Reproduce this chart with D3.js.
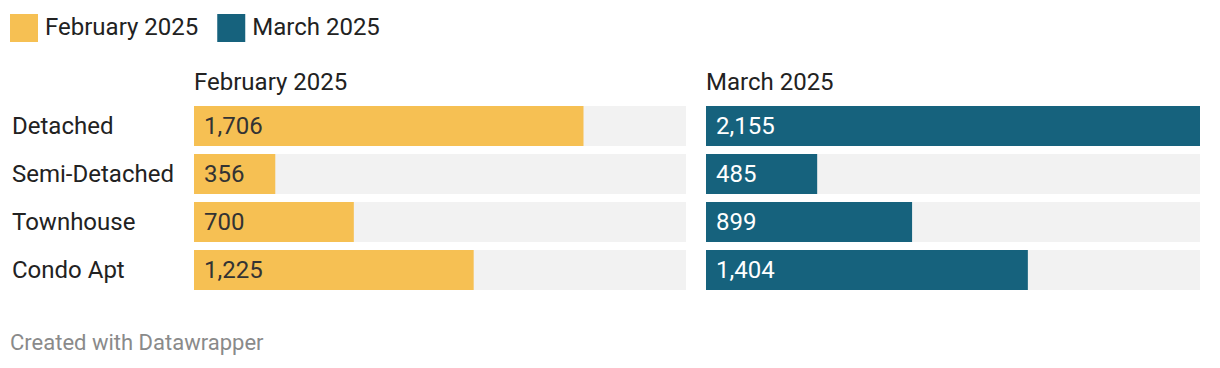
<!DOCTYPE html>
<html lang="en">
<head>
  <meta charset="UTF-8" />
  <title>Sales by home type – February vs March 2025</title>
  <script src="https://d3js.org/d3.v7.min.js"></script>
  <style>
    body {
      margin: 0;
      background: #fff;
      font-family: Roboto, "Noto Sans", sans-serif;
    }
    svg text {
      font-family: Roboto, "Noto Sans", sans-serif;
    }
  </style>
</head>
<body>
  <svg width="1220" height="368"></svg>

  <script>
    const categories = ["Detached", "Semi-Detached", "Townhouse", "Condo Apt"];
    const seriesNames = ["February 2025", "March 2025"];
    const february = [1706, 356, 700, 1225];
    const march = [2155, 485, 899, 1404];
    const seriesValues = [february, march];
    const colors = ["#f6c053", "#16627d"];
    const labelColors = ["#333333", "#ffffff"];

    const svg = d3.select("svg");
    const fontSize = 24;

    // Legend
    const legend = svg.append("g").attr("transform", "translate(10,14)");
    let lx = 0;
    seriesNames.forEach((name, i) => {
      const g = legend.append("g").attr("transform", `translate(${lx},0)`);
      g.append("rect").attr("width", 28).attr("height", 28).attr("fill", colors[i]);
      const t = g.append("text")
        .attr("x", 35).attr("y", 21)
        .attr("font-size", fontSize).attr("fill", "#222")
        .text(name);
      lx += 35 + t.node().getComputedTextLength() + 19;
    });

    // Panels
    const panelX = [194, 706];
    const panelW = 494;
    // bands: step 48, bar height 40
    const yb = d3.scaleBand().domain(categories).range([106, 106 + 48 * 4 - 8]).paddingInner(8 / 48);
    const x = d3.scaleLinear().domain([0, d3.max([...february, ...march])]).range([0, panelW]);
    const fmt = d3.format(",");

    // Row labels
    svg.append("g").selectAll("text")
      .data(categories)
      .join("text")
      .attr("x", 12)
      .attr("y", d => yb(d) + yb.bandwidth() / 2 + 8)
      .attr("font-size", fontSize)
      .attr("fill", "#222")
      .text(d => d);

    seriesValues.forEach((vals, i) => {
      const g = svg.append("g").attr("transform", `translate(${panelX[i]},0)`);
      const w = i === 0 ? 492 : 494;

      g.append("text")
        .attr("x", 0).attr("y", 90)
        .attr("font-size", fontSize).attr("fill", "#222")
        .text(seriesNames[i]);

      g.selectAll("rect.bg")
        .data(categories)
        .join("rect")
        .attr("class", "bg")
        .attr("x", 0)
        .attr("y", d => yb(d))
        .attr("width", w)
        .attr("height", yb.bandwidth())
        .attr("fill", "#f2f2f2");

      g.selectAll("rect.bar")
        .data(vals)
        .join("rect")
        .attr("class", "bar")
        .attr("x", 0)
        .attr("y", (d, j) => yb(categories[j]))
        .attr("width", d => x(d) * w / panelW)
        .attr("height", yb.bandwidth())
        .attr("fill", colors[i]);

      g.selectAll("text.val")
        .data(vals)
        .join("text")
        .attr("class", "val")
        .attr("x", 10)
        .attr("y", (d, j) => yb(categories[j]) + yb.bandwidth() / 2 + 8)
        .attr("font-size", fontSize)
        .attr("fill", labelColors[i])
        .text(d => fmt(d));
    });

    // Footer
    svg.append("text")
      .attr("x", 10).attr("y", 350)
      .attr("font-size", 22)
      .attr("fill", "#8a8a8a")
      .text("Created with Datawrapper");
  </script>
</body>
</html>
